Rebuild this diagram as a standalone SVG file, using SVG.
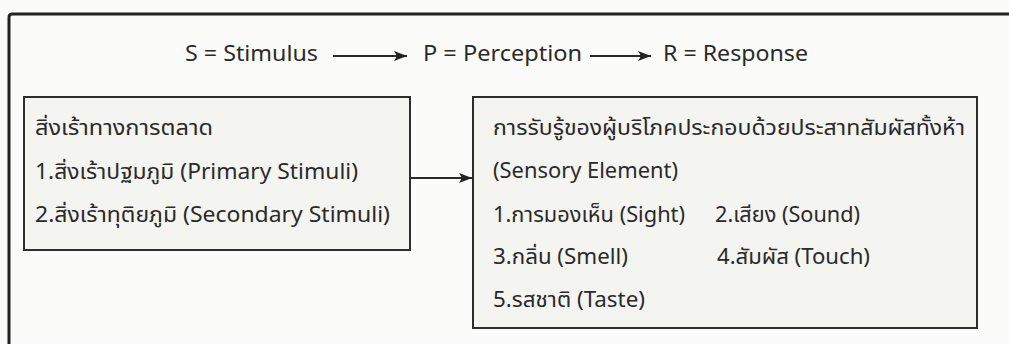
<svg xmlns="http://www.w3.org/2000/svg" width="1009" height="344" viewBox="0 0 1009 344">
  <style>
    text { font-family: "Noto Sans", "Noto Sans Thai", "Loma", "Tlwg Typo", "DejaVu Sans", sans-serif; font-size: 21px; fill: #2a2a2a; }
    .box { fill: #f4f4f1; stroke: #2e2e2e; stroke-width: 2; }
    .conn { stroke: #2a2a2a; stroke-width: 2; fill: none; marker-end: url(#ah); }
  </style>
  <defs>
    <marker id="ah" viewBox="0 0 13 10" refX="13" refY="5" markerWidth="13" markerHeight="10" markerUnits="userSpaceOnUse" orient="auto">
      <path d="M0,0 L13,5 L0,10 L3,5 Z" fill="#222"/>
    </marker>
  </defs>
  <rect x="0" y="0" width="1009" height="344" fill="#fbfbf9"/>
  <rect x="9" y="14" width="1012" height="345" rx="3" fill="#fbfbf9" stroke="#222" stroke-width="3"/>

  <g id="title">
    <text x="185" y="61" textLength="133" lengthAdjust="spacingAndGlyphs">S = Stimulus</text>
    <text x="423" y="61" textLength="159" lengthAdjust="spacingAndGlyphs">P = Perception</text>
    <text x="663" y="61" textLength="145" lengthAdjust="spacingAndGlyphs">R = Response</text>
  </g>

  <g id="stimulus-box">
    <rect class="box" x="24" y="97" width="386" height="153"/>
    <text x="35" y="135" textLength="178" lengthAdjust="spacingAndGlyphs">สิ่งเร้าทางการตลาด</text>
    <text x="35" y="179" textLength="323" lengthAdjust="spacingAndGlyphs">1.สิ่งเร้าปฐมภูมิ (Primary Stimuli)</text>
    <text x="35" y="222" textLength="355" lengthAdjust="spacingAndGlyphs">2.สิ่งเร้าทุติยภูมิ (Secondary Stimuli)</text>
  </g>

  <g id="perception-box">
    <rect class="box" x="473" y="97" width="504" height="231"/>
    <text x="493" y="135" textLength="472" lengthAdjust="spacingAndGlyphs">การรับรู้ของผู้บริโภคประกอบด้วยประสาทสัมผัสทั้งห้า</text>
    <text x="493" y="178" textLength="185" lengthAdjust="spacingAndGlyphs">(Sensory Element)</text>
    <text x="493" y="222" textLength="192" lengthAdjust="spacingAndGlyphs">1.การมองเห็น (Sight)</text>
    <text x="715" y="222" textLength="145" lengthAdjust="spacingAndGlyphs">2.เสียง (Sound)</text>
    <text x="493" y="264" textLength="135" lengthAdjust="spacingAndGlyphs">3.กลิ่น (Smell)</text>
    <text x="717" y="264" textLength="153" lengthAdjust="spacingAndGlyphs">4.สัมผัส (Touch)</text>
    <text x="493" y="307" textLength="152" lengthAdjust="spacingAndGlyphs">5.รสชาติ (Taste)</text>
  </g>

  <g id="connectors">
    <line class="conn" x1="333" y1="56" x2="407" y2="56"/>
    <line class="conn" x1="590" y1="56" x2="651" y2="56"/>
    <line class="conn" x1="410" y1="178" x2="472" y2="178"/>
  </g>
</svg>
